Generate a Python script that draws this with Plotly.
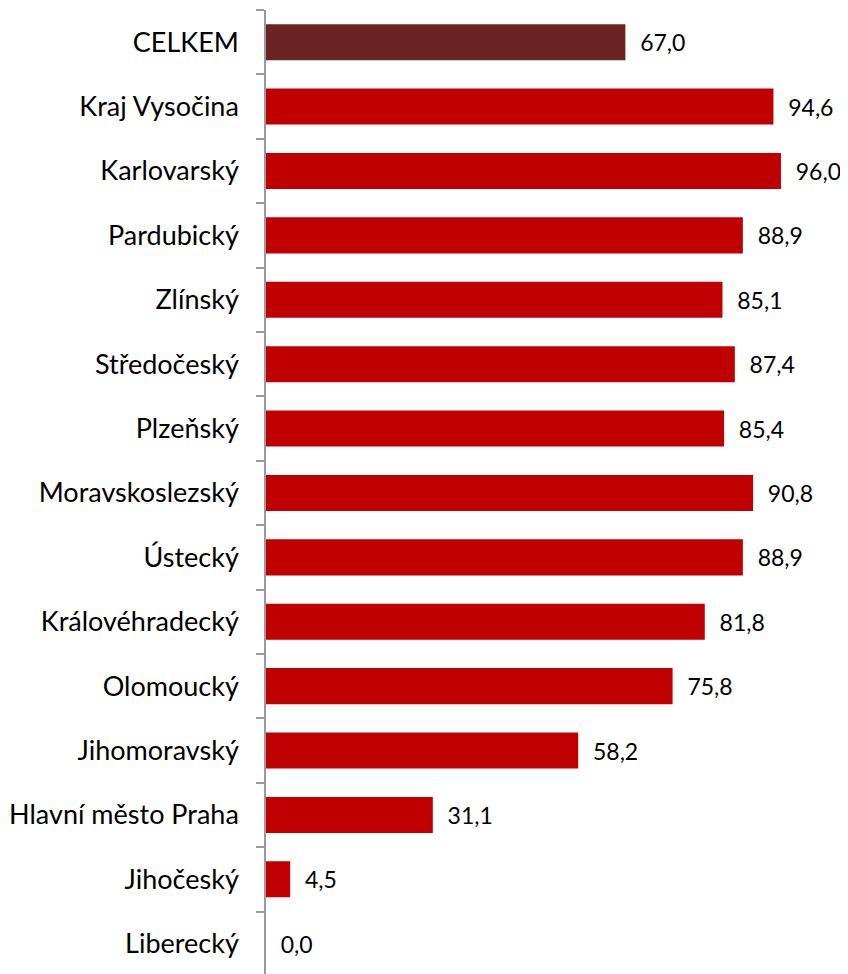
import plotly.graph_objects as go

categories = ["CELKEM", "Kraj Vysočina", "Karlovarský", "Pardubický", "Zlínský",
              "Středočeský", "Plzeňský", "Moravskoslezský", "Ústecký",
              "Královéhradecký", "Olomoucký", "Jihomoravský", "Hlavní město Praha",
              "Jihočeský", "Liberecký"]
values = [67.0, 94.6, 96.0, 88.9, 85.1, 87.4, 85.4, 90.8, 88.9, 81.8, 75.8, 58.2, 31.1, 4.5, 0.0]
colors = ["#6A2424"] + ["#C00000"] * (len(categories) - 1)
labels = ["  " + f"{v:.1f}".replace(".", ",") for v in values]

fig = go.Figure(go.Bar(
    y=categories, x=values, orientation="h",
    marker=dict(color=colors, line=dict(width=0)),
    text=labels, textposition="outside", cliponaxis=False,
    textfont=dict(family="Lato", size=23, color="#000000"),
    width=0.56,
))

fig.update_layout(
    width=840, height=966,
    margin=dict(l=258, r=0, t=2, b=0),
    paper_bgcolor="white", plot_bgcolor="white",
    showlegend=False,
    xaxis=dict(range=[0, 108.5], visible=False),
    yaxis=dict(
        type="category", categoryorder="array", categoryarray=categories,
        range=[14.47, -0.5], automargin=False,
        showline=True, linecolor="#9A9A9A", linewidth=1.5,
        ticks="outside", tickson="boundaries", ticklen=8, tickcolor="#9A9A9A", tickwidth=1.5,
        ticklabelstandoff=20,
        tickfont=dict(family="Lato", size=27, color="#000000"),
        showgrid=False, zeroline=False,
    ),
)

fig.write_html("out.html")
